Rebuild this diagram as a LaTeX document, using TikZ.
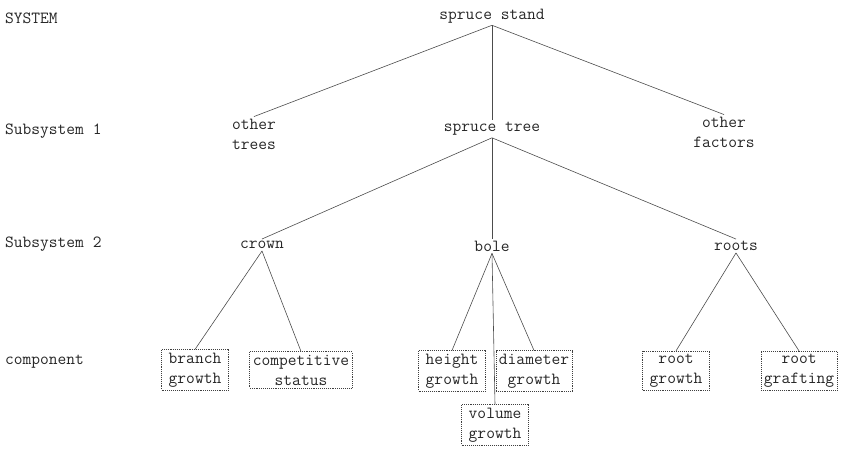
\documentclass[tikz,border=0pt]{standalone}
\usepackage{tikz}

\begin{document}
\begin{tikzpicture}[x=1pt, y=-1pt,
  every node/.style={font=\ttfamily\fontsize{17}{20}\selectfont, text=black!85, align=center, inner sep=2pt},
  compbox/.style={draw=black!75, densely dotted, line width=0.9pt, inner xsep=3pt, inner ysep=3pt, minimum width=67pt},
  link/.style={draw=black!70, line width=0.6pt}]
\useasboundingbox (0,0) rectangle (843,450);
%
\node [anchor=west] (lsystem) at (3, 18) {SYSTEM};
\node [anchor=west] (lsubone) at (3, 131) {Subsystem 1};
\node [anchor=west] (lsubtwo) at (3, 244) {Subsystem 2};
\node [anchor=west] (lcomp) at (3, 362) {component};
%
\node (stand) at (492, 16) {spruce stand};
\node (otrees) at (254, 134) {other\\trees};
\node (tree) at (492, 129) {spruce tree};
\node (ofactors) at (724, 132) {other\\factors};
%
\node (crown) at (262, 245) {crown};
\node (bole) at (492, 246) {bole};
\node (roots) at (736, 246) {roots};
%
\node [compbox] (branch) at (195, 370) {branch\\growth};
\node [compbox] (compet) at (301, 370) {competitive\\status};
\node [compbox] (height) at (452, 371) {height\\growth};
\node [compbox] (diam) at (534, 371) {diameter\\growth};
\node [compbox] (volume) at (495, 425) {volume\\growth};
\node [compbox] (rgrowth) at (676, 371) {root\\growth};
\node [compbox] (rgraft) at (799, 371) {root\\grafting};
%
\draw [link] (stand.south) -- (otrees.north) ;
\draw [link] (stand.south) -- (tree.north) ;
\draw [link] (stand.south) -- (ofactors.north) ;
%
\draw [link] (tree.south) -- (crown.north) ;
\draw [link] (tree.south) -- (bole.north) ;
\draw [link] (tree.south) -- (roots.north) ;
%
\draw [link] (crown.south) -- (branch.north) ;
\draw [link] (crown.south) -- (compet.north) ;
\draw [link] (bole.south) -- (height.north) ;
\draw [link] (bole.south) -- (diam.north) ;
\draw [link] (bole.south) -- (volume.north) ;
\draw [link] (roots.south) -- (rgrowth.north) ;
\draw [link] (roots.south) -- (rgraft.north) ;
%%%%%%%%%%%%%%%%%%%%%%%%%%%%%%%
\end{tikzpicture}
\end{document}
